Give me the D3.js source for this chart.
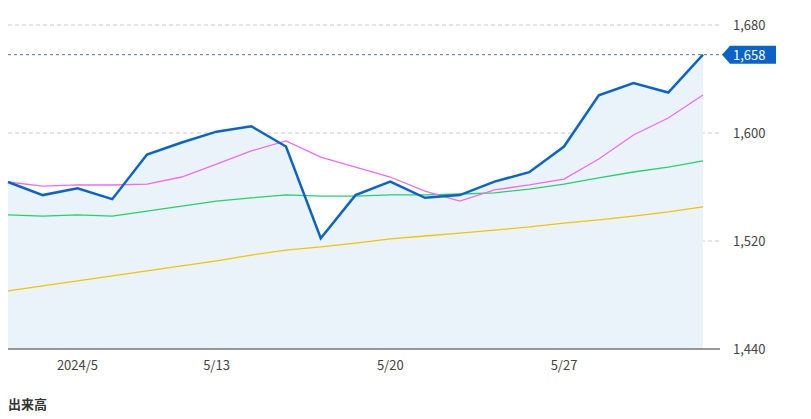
<!DOCTYPE html>
<html><head><meta charset="utf-8">
<script src="https://d3js.org/d3.v7.min.js"></script>
<style>body{margin:0;background:#fff;font-family:"Noto Sans CJK JP","Noto Sans",sans-serif}</style>
</head><body><svg id="c" width="811" height="419"></svg>
<script>
const dates=["5/1","5/2","5/7","5/8","5/9","5/10","5/13","5/14","5/15","5/16","5/17","5/20","5/21","5/22","5/23","5/24","5/27","5/28","5/29","5/30","5/31"];
const price=[1563.7,1554,1559,1551,1584,1593,1601,1605,1590,1522,1554,1564,1552,1554,1564,1571,1590,1628,1637,1630,1658];
const ma5=[1563.7,1560.7,1561.5,1561.5,1562.2,1567.4,1577,1586.7,1594.1,1582.2,1574.8,1567.4,1557,1549.6,1557.8,1561.5,1565.9,1580.7,1598.5,1611.1,1628.1];
const ma25=[1539.3,1538.5,1539.3,1538.5,1542.2,1545.9,1549.6,1551.9,1554.1,1553.3,1553.3,1554.1,1554.1,1554.8,1555.6,1558.5,1562.2,1566.7,1571.1,1574.8,1579.3];
const ma75=[1483,1486.7,1490.4,1494.1,1497.8,1501.5,1505.2,1509.6,1513.3,1515.6,1518.5,1521.5,1523.7,1525.9,1528.1,1530.4,1533.3,1535.6,1538.5,1541.5,1545.2];
const yTicks=[1440,1520,1600,1680];
const xTickIdx=[2,6,11,16];
const xTickLabels=["2024/5","5/13","5/20","5/27"];
const last=1658;

const svg=d3.select("#c");
const x=d3.scalePoint().domain(d3.range(dates.length)).range([8,703]);
const y=d3.scaleLinear().domain([1440,1680]).range([349,25]);
const g=svg.append("g");
yTicks.slice(1).forEach(t=>g.append("line").attr("x1",8).attr("x2",720).attr("y1",y(t)).attr("y2",y(t)).attr("stroke","#ccc").attr("stroke-dasharray","4,3"));
g.append("path").datum(price).attr("fill","#eaf2fa")
 .attr("d",d3.area().x((d,i)=>x(i)).y0(y(1440)).y1(d=>y(d)));
const ln=(arr,c,w)=>g.append("path").datum(arr).attr("fill","none").attr("stroke",c).attr("stroke-width",w).attr("d",d3.line().x((d,i)=>x(i)).y(d=>y(d)));
ln(ma75,"#f5c400",1.3);ln(ma25,"#22d36a",1.3);ln(ma5,"#f06af0",1.3);ln(price,"#0a64c8",2.5);
g.append("line").attr("x1",8).attr("x2",722).attr("y1",y(last)).attr("y2",y(last)).attr("stroke","#5577aa").attr("stroke-dasharray","3,3");
g.append("line").attr("x1",8).attr("x2",720).attr("y1",y(1440)).attr("y2",y(1440)).attr("stroke","#333");
yTicks.forEach(t=>g.append("text").attr("x",733).attr("y",y(t)+5).attr("font-size",13).attr("fill","#444").text(d3.format(",")(t)));
xTickIdx.forEach((i,k)=>g.append("text").attr("x",x(i)).attr("y",370).attr("text-anchor","middle").attr("font-size",13).attr("fill","#444").text(xTickLabels[k]));
const by=y(last);
g.append("path").attr("d",`M722,${by} L730,${by-9} L776,${by-9} L776,${by+9} L730,${by+9} Z`).attr("fill","#0a64c8");
g.append("text").attr("x",733).attr("y",by+5).attr("font-size",13).attr("fill","#fff").text(d3.format(",")(last));
svg.append("text").attr("x",8).attr("y",409).attr("font-size",13).attr("font-weight","bold").attr("fill","#333").text("出来高");
</script></body></html>
